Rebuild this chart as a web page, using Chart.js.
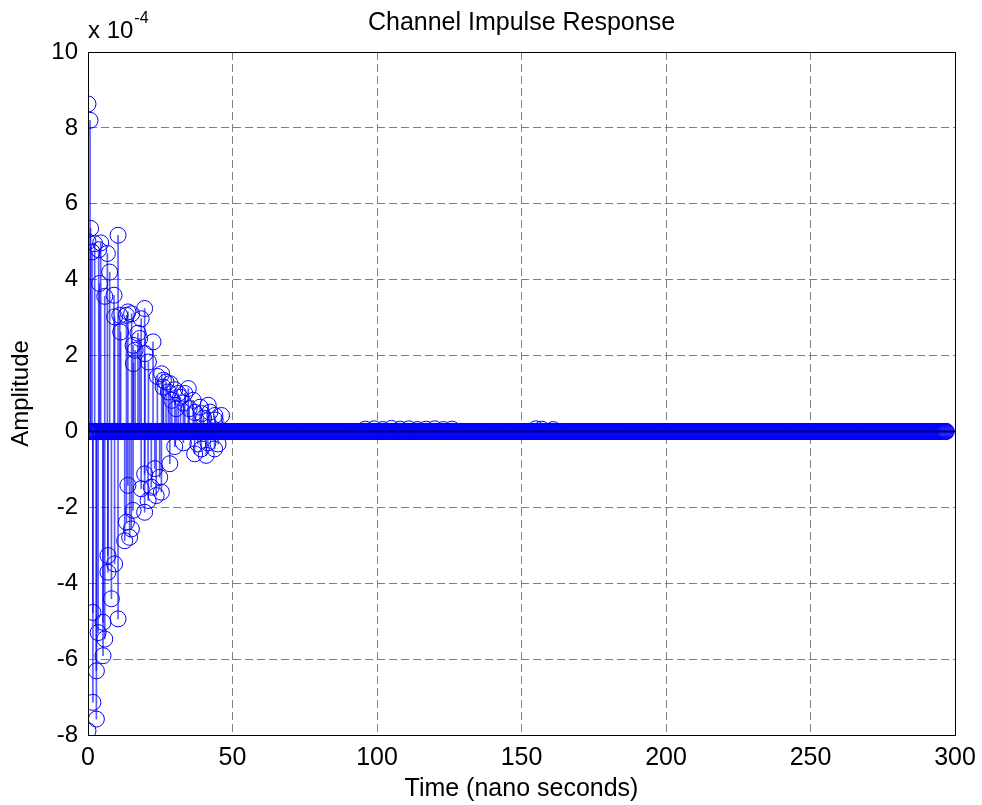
<!DOCTYPE html>
<html>
<head>
<meta charset="utf-8">
<title>Channel Impulse Response</title>
<script src="https://cdn.jsdelivr.net/npm/chart.js@4.4.1/dist/chart.umd.min.js"></script>
<style>
  html, body { margin: 0; padding: 0; background: #fff; }
  #wrap { width: 982px; height: 805px; }
</style>
</head>
<body>
<div id="wrap"><canvas id="cir"></canvas></div>
<script>
// Amplitudes are in units of 1e-4 (multiplier printed top-left like MATLAB does)
const tapTimes = [
  0, 0.7, 0, 0.9, 2.3, 4.4, 1.4, 3.7, 6.7, 10.4, 7.5, 4.0, 5.8, 9.0, 9.2, 11, 13.3, 13.8,
  19.6, 18.4, 11.3, 17.3, 17.9, 22.5, 15.6, 15.1, 16.3, 19.7, 20.9, 15.7, 24, 25.5, 26.1,
  26, 27, 28.4, 27.8, 30, 31.2, 29, 33.5, 32, 34.7, 33, 36.4, 35, 38.8, 37, 41.6, 39.3,
  42.2, 40, 43.9, 44, 46.2, 30.5,
  0, 1.7, 2.9, 1.7, 2.9, 3.5, 5.2, 5.8, 5.2, 10.4, 8.1, 6.9, 9.2, 6.9, 12.7, 14.4, 13.3,
  15, 15.6, 19.6, 20.8, 23.6, 25.4, 21.9, 18.4, 13.8, 24.8, 19.6, 23.1, 28.3, 36.9, 39.2,
  40.9, 43.8, 45, 38, 30, 33, 41.5
];
const tapAmps = [
  8.63, 8.2, 5.0, 5.35, 4.95, 4.97, 4.73, 4.79, 4.69, 5.17, 4.2, 3.9, 3.56, 3.59, 3.02, 3.06, 3.06, 3.15,
  3.24, 2.97, 2.62, 2.59, 2.45, 2.36, 2.27, 3.1, 2.14, 2.05, 1.83, 1.79, 1.45, 1.52, 1.35,
  1.17, 1.3, 1.26, 1.04, 1.1, 1.0, 0.82, 1.0, 0.9, 1.13, 0.75, 0.82, 0.6, 0.64, 0.5, 0.69, 0.47,
  0.51, 0.35, 0.42, 0.3, 0.42, 0.6,
  -7.89, -7.14, -7.58, -4.77, -6.31, -5.3, -5.03, -5.47, -5.91, -4.94, -4.41, -3.27, -3.49, -3.71, -2.88, -2.79, -2.39,
  -2.57, -2.08, -2.13, -1.82, -1.69, -1.6, -1.47, -1.51, -1.42, -1.21, -1.12, -0.98, -0.85, -0.59, -0.46,
  -0.63, -0.46, -0.33, -0.33, -0.4, -0.3, -0.3
];
// faint late echoes, barely above the baseline
const echoTimes = [96, 99, 102, 105, 108, 111, 114, 117, 120, 123, 126, 155, 157, 161];
const echoAmps = [0.06, 0.07, 0.05, 0.08, 0.06, 0.07, 0.05, 0.06, 0.07, 0.05, 0.06, 0.07, 0.06, 0.05];
const lastSample = 297;   // all other samples are exactly zero
const sampleStep = 0.25;  // ns between samples
const xTicks = [0, 50, 100, 150, 200, 250, 300];
const yTicks = [-8, -6, -4, -2, 0, 2, 4, 6, 8, 10];

const FONT = '"Liberation Sans", Arial, Helvetica, sans-serif';
const BLUE = '#0000ff';

const taps = tapTimes.map((t, i) => ({ x: t, y: tapAmps[i] }))
  .concat(echoTimes.map((t, i) => ({ x: t, y: echoAmps[i] })));
const zeros = [];
for (let k = 0; k * sampleStep <= lastSample; k++) zeros.push({ x: k * sampleStep, y: 0 });

// black frame round the axes + the "x 10^-4" multiplier
const matlabFrame = {
  id: 'matlabFrame',
  afterDraw(chart) {
    const { ctx, chartArea: a } = chart;
    ctx.save();
    ctx.strokeStyle = '#000';
    ctx.lineWidth = 1;
    ctx.strokeRect(Math.round(a.left) + 0.5, Math.round(a.top) + 0.5,
      Math.round(a.right - a.left), Math.round(a.bottom - a.top));
    ctx.fillStyle = '#000';
    ctx.textBaseline = 'alphabetic';
    ctx.font = '24px ' + FONT;
    ctx.fillText('x 10', a.left, 38);
    const w = ctx.measureText('x 10').width;
    ctx.font = '16px ' + FONT;
    ctx.fillText('-4', a.left + w + 1, 23);
    ctx.restore();
  }
};

new Chart(document.getElementById('cir'), {
  type: 'scatter',
  data: {
    datasets: [
      {
        type: 'line', data: [{ x: 0, y: 0 }, { x: 300, y: 0 }],
        borderColor: '#000', borderWidth: 1.5, pointRadius: 0, order: 0
      },
      {
        type: 'scatter', data: zeros.concat(taps),
        pointStyle: 'circle', pointRadius: 8, pointBorderWidth: 1,
        pointBorderColor: BLUE, pointBackgroundColor: 'rgba(0,0,0,0)', order: 1
      },
      {
        type: 'bar', data: taps, backgroundColor: 'rgba(0,0,255,0.65)',
        barThickness: 1, grouped: false, order: 2
      }
    ]
  },
  plugins: [matlabFrame],
  options: {
    responsive: true, maintainAspectRatio: false, animation: false,
    layout: { padding: { left: 0, right: 27, top: 0, bottom: 0 } },
    plugins: {
      legend: { display: false },
      tooltip: { enabled: false },
      title: {
        display: true, text: 'Channel Impulse Response', fullSize: false,
        color: '#000', font: { family: FONT, size: 25, weight: 'normal' },
        padding: { top: 8, bottom: 14 }
      }
    },
    scales: {
      x: {
        type: 'linear', min: 0, max: 300, offset: false,
        afterBuildTicks: s => { s.ticks = xTicks.map(v => ({ value: v })); },
        afterFit: s => { s.height = 70; s.paddingLeft = 0; s.paddingRight = 0; },
        grid: { color: '#7f7f7f', lineWidth: 1, drawTicks: false, offset: false },
        border: { dash: [8, 4], color: '#000' },
        ticks: { color: '#000', padding: 8, maxRotation: 0, font: { family: FONT, size: 25 } },
        title: {
          display: true, text: 'Time (nano seconds)', color: '#000',
          font: { family: FONT, size: 25 }, padding: { top: 0, bottom: 1 }
        }
      },
      y: {
        type: 'linear', min: -8, max: 10,
        afterBuildTicks: s => { s.ticks = yTicks.map(v => ({ value: v })); },
        afterFit: s => { s.width = 88; },
        grid: { color: '#7f7f7f', lineWidth: 1, drawTicks: false },
        border: { dash: [8, 4], color: '#000' },
        ticks: { color: '#000', padding: 10, font: { family: FONT, size: 24 } },
        title: {
          display: true, text: 'Amplitude', color: '#000',
          font: { family: FONT, size: 24 }, padding: { top: 7, bottom: 0 }
        }
      }
    }
  }
});
</script>
</body>
</html>
